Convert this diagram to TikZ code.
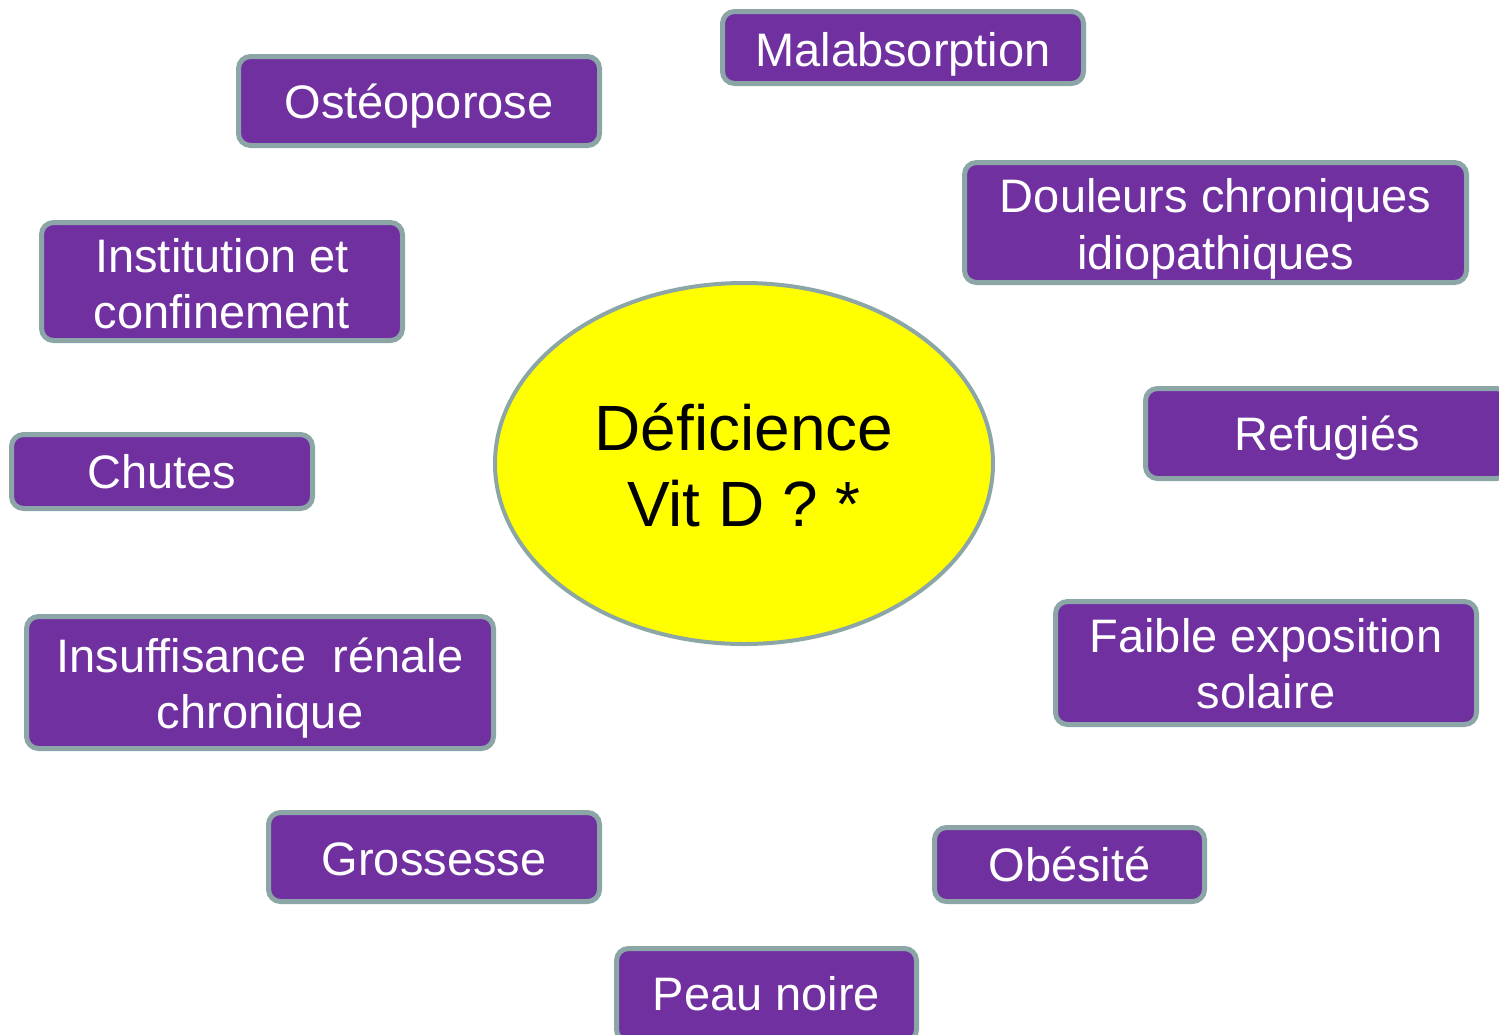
\documentclass[tikz,border=0pt]{standalone}
\usepackage{fontspec}
\setmainfont{Liberation Sans}
\usetikzlibrary{shapes.geometric}
\definecolor{boxpurple}{RGB}{112,48,160}
\definecolor{boxedge}{RGB}{140,166,168}
\definecolor{ellyellow}{RGB}{255,255,0}
\newcommand\boxtext[2]{\raisebox{#1pt}[0pt][0pt]{\begin{tabular}[b]{@{}c@{}}#2\end{tabular}}}
\tikzset{
  causebox/.style={rectangle, rounded corners=12pt, draw=boxedge, line width=5pt,
    fill=boxpurple, text=white, inner sep=0pt,
    font=\fontsize{47}{56.5}\selectfont},
  centreell/.style={ellipse, draw=boxedge, line width=4pt, fill=ellyellow,
    text=black, inner sep=0pt,
    font=\fontsize{64}{76}\selectfont,
    minimum width=498pt, minimum height=361pt}
}
\begin{document}
\begin{tikzpicture}[x=1pt,y=-1pt]
\useasboundingbox (0,0) rectangle (1499,1034);
\begin{scope}
\clip (0,0) rectangle (1499,1034);
\node[centreell] (def) at (744,463.5) {\boxtext{-62.5}{Déficience\\Vit D ? *}};
\node[causebox, minimum width=361pt, minimum height=72pt] (malab) at (903,47.5) {\boxtext{-18.5}{Malabsorption}};
\node[causebox, minimum width=361pt, minimum height=89pt] (osteo) at (419,101) {\boxtext{-17.5}{Ostéoporose}};
\node[causebox, minimum width=502pt, minimum height=120pt] (doul) at (1215.5,222.5) {\boxtext{-46.5}{Douleurs chroniques\\idiopathiques}};
\node[causebox, minimum width=361pt, minimum height=118pt] (inst) at (222,281.5) {\boxtext{-47}{Institution et\\confinement}};
\node[causebox, minimum width=363pt, minimum height=90pt] (refug) at (1327,433.5) {\boxtext{-17}{Refugiés}};
\node[causebox, minimum width=301pt, minimum height=74pt] (chutes) at (162,471.5) {\boxtext{-16.5}{Chutes}};
\node[causebox, minimum width=467pt, minimum height=132pt] (irc) at (260,682.5) {\boxtext{-46}{Insuffisance~ rénale\\chronique}};
\node[causebox, minimum width=421pt, minimum height=123pt] (faible) at (1266,663) {\boxtext{-45.5}{Faible exposition\\solaire}};
\node[causebox, minimum width=331pt, minimum height=89pt] (gross) at (434,857) {\boxtext{-18}{Grossesse}};
\node[causebox, minimum width=270pt, minimum height=74pt] (obes) at (1069.5,864.5) {\boxtext{-16.5}{Obésité}};
\node[causebox, minimum width=300pt, minimum height=93pt] (peau) at (766.5,995) {\boxtext{-15}{Peau noire}};
\end{scope}
\end{tikzpicture}
\end{document}
